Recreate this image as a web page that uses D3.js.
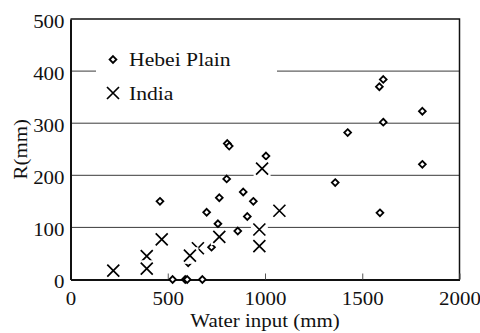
<!DOCTYPE html>
<html>
<head>
<meta charset="utf-8">
<script src="https://cdn.jsdelivr.net/npm/d3@7"></script>
<style>
  html, body { margin: 0; padding: 0; background: #fff; }
  svg text { font-family: "Liberation Serif", "Times New Roman", serif !important; fill: #111; }
</style>
</head>
<body>
<svg id="chart" width="480" height="333"></svg>
<script>
// Water input (mm) vs R (mm)
const hebeiX = [460, 525, 590, 600, 678, 605, 700, 725, 758, 765, 803, 806, 816, 860, 888, 909, 940, 1005, 1361, 1425, 1588, 1608, 1608, 1809, 1809, 1591];
const hebeiY = [150, 0, 0, 0, 0, 32, 129, 62, 107, 157, 193, 261, 256, 93, 168, 121, 150, 237, 186, 282, 370, 384, 302, 323, 221, 128];
const indiaX = [220, 392, 392, 469, 655, 614, 765, 985, 971, 971, 1074];
const indiaY = [17, 45, 21, 77, 60, 46, 82, 213, 96, 64, 132];
const xTicks = [0, 500, 1000, 1500, 2000];
const yTicks = [0, 100, 200, 300, 400, 500];
const gridValues = [100, 200, 300, 400];
const seriesNames = ["Hebei Plain", "India"];
const xTitle = "Water input (mm)";
const yTitle = "R(mm)";

const serif = '"Liberation Serif", "Times New Roman", serif';
const svg = d3.select("#chart");
const x = d3.scaleLinear().domain([0, 2000]).range([70.5, 459.5]);
const y = d3.scaleLinear().domain([0, 500]).range([279.5, 19]);
const stretch = 1.13;

function widen(sel, k) {
  sel.each(function () {
    const w = this.getComputedTextLength();
    d3.select(this).attr("textLength", w * k).attr("lengthAdjust", "spacingAndGlyphs");
  });
}

// horizontal gridlines
svg.append("g").selectAll("line").data(gridValues).join("line")
  .attr("x1", x(0)).attr("x2", x(2000))
  .attr("y1", d => y(d)).attr("y2", d => y(d))
  .attr("stroke", "#3a3a3a").attr("stroke-width", 1);

// legend background hides the gridline behind it
svg.append("rect").attr("x", 96).attr("y", 40).attr("width", 181).attr("height", 68).attr("fill", "#fff");

// frame: top and right borders
svg.append("path")
  .attr("d", `M${x(0)},${y(500)}H${x(2000)}V${y(0)}`)
  .attr("fill", "none").attr("stroke", "#111").attr("stroke-width", 1.5);

// bottom axis with inward ticks
const xAxis = svg.append("g").attr("transform", `translate(0,${y(0)})`)
  .call(d3.axisBottom(x).tickValues(xTicks).tickSizeInner(-6).tickSizeOuter(0).tickFormat(d3.format("d")));
xAxis.attr("font-family", serif);
xAxis.select(".domain").attr("stroke", "#111").attr("stroke-width", 2);
xAxis.selectAll(".tick line").attr("stroke", "#555").attr("stroke-width", 1);
xAxis.selectAll(".tick text").attr("y", 25.5).attr("dy", null)
  .attr("font-size", 18.5).style("font-family", serif).attr("fill", "#111")
  .call(widen, stretch);

// left axis, labels only
const yAxis = svg.append("g").attr("transform", `translate(${x(0)},0)`)
  .call(d3.axisLeft(y).tickValues(yTicks).tickSize(0).tickPadding(6).tickFormat(d3.format("d")));
yAxis.attr("font-family", serif);
yAxis.select(".domain").attr("stroke", "#111").attr("stroke-width", 2);
yAxis.selectAll(".tick text").attr("x", -6).attr("dy", 8)
  .attr("font-size", 18.5).style("font-family", serif).attr("fill", "#111")
  .call(widen, stretch);

// axis titles
svg.append("text").attr("x", x(1000)).attr("y", 327).attr("text-anchor", "middle")
  .attr("font-size", 18.5).text(xTitle).call(widen, stretch);
svg.append("text").attr("transform", `translate(27,${(y(0) + y(500)) / 2}) rotate(-90)`)
  .attr("text-anchor", "middle").attr("font-size", 18.5).text(yTitle).call(widen, stretch);

const diamond = r => `M0,${-r}L${r},0L0,${r}L${-r},0Z`;
const cross = r => `M${-r},${-r}L${r},${r}M${r},${-r}L${-r},${r}`;

// Hebei Plain: open diamonds
svg.append("g").selectAll("path").data(hebeiX.map((v, i) => [v, hebeiY[i]])).join("path")
  .attr("transform", d => `translate(${x(d[0])},${y(d[1])})`)
  .attr("d", diamond(3.4))
  .attr("fill", "#fff").attr("stroke", "#000").attr("stroke-width", 1.8);

// India: crosses, each on a white backing square
const ig = svg.append("g").selectAll("g").data(indiaX.map((v, i) => [v, indiaY[i]])).join("g")
  .attr("transform", d => `translate(${x(d[0])},${y(d[1])})`);
ig.append("rect").attr("x", -8.5).attr("y", -8.3).attr("width", 17).attr("height", 16.6).attr("fill", "#fff");
ig.append("path").attr("d", cross(6)).attr("fill", "none").attr("stroke", "#000").attr("stroke-width", 1.7);

// legend
const lg = svg.append("g");
lg.append("path").attr("transform", "translate(113,59.5)").attr("d", diamond(3.4))
  .attr("fill", "#fff").attr("stroke", "#000").attr("stroke-width", 1.8);
lg.append("path").attr("transform", "translate(113,93)").attr("d", cross(6))
  .attr("fill", "none").attr("stroke", "#000").attr("stroke-width", 1.7);
lg.append("text").attr("x", 129).attr("y", 66).attr("font-size", 18.5).text(seriesNames[0]).call(widen, 1.17);
lg.append("text").attr("x", 129).attr("y", 100).attr("font-size", 18.5).text(seriesNames[1]).call(widen, 1.17);
</script>
</body>
</html>
